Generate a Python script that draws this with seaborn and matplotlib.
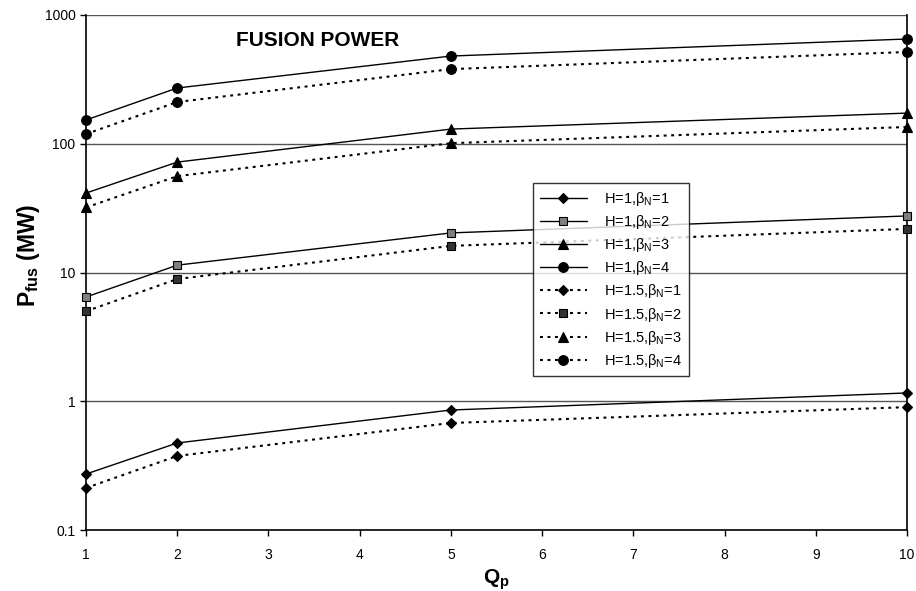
import numpy as np
import pandas as pd
import matplotlib
matplotlib.use('Agg')
import matplotlib.pyplot as plt
from matplotlib.ticker import FixedLocator, FixedFormatter, NullLocator
import seaborn as sns

# data
qp = [1, 2, 5, 10]
h1_b1 = [0.272, 0.474, 0.855, 1.16]
h1_b2 = [6.45, 11.4, 20.3, 27.5]
h1_b3 = [41.4, 72, 130, 173]
h1_b4 = [153, 271, 480, 651]
h15_b1 = [0.212, 0.376, 0.678, 0.90]
h15_b2 = [5.0, 8.9, 16.1, 21.8]
h15_b3 = [32, 56, 101, 135]
h15_b4 = [119, 211, 380, 516]

dotted = (0, (1.4, 2.2))
series = [
    ('H=1,$\\beta_N$=1', h1_b1, '-', 'D', 'black'),
    ('H=1,$\\beta_N$=2', h1_b2, '-', 's', '#808080'),
    ('H=1,$\\beta_N$=3', h1_b3, '-', '^', 'black'),
    ('H=1,$\\beta_N$=4', h1_b4, '-', 'o', 'black'),
    ('H=1.5,$\\beta_N$=1', h15_b1, dotted, 'D', 'black'),
    ('H=1.5,$\\beta_N$=2', h15_b2, dotted, 's', '#333333'),
    ('H=1.5,$\\beta_N$=3', h15_b3, dotted, '^', 'black'),
    ('H=1.5,$\\beta_N$=4', h15_b4, dotted, 'o', 'black'),
]
msize = {'D': 5.5, 's': 6.3, '^': 7, 'o': 7}

sns.set_style('white')
plt.rcParams['font.family'] = ['Liberation Sans', 'DejaVu Sans']
plt.rcParams['text.color'] = 'black'
plt.rcParams['axes.labelcolor'] = 'black'
plt.rcParams['xtick.color'] = 'black'
plt.rcParams['ytick.color'] = 'black'
plt.rcParams['mathtext.fontset'] = 'custom'
plt.rcParams['mathtext.rm'] = 'Liberation Sans'
plt.rcParams['mathtext.it'] = 'Liberation Sans'
plt.rcParams['mathtext.bf'] = 'Liberation Sans:bold'

fig = plt.figure(figsize=(9.16, 5.91), dpi=100)
ax = fig.add_axes([86/916, 61/591, 821/916, 515/591])

for name, vals, ls, mk, fc in series:
    df = pd.DataFrame({'Qp': qp, 'P': vals})
    sns.lineplot(data=df, x='Qp', y='P', ax=ax, color='black', linestyle=ls,
                 linewidth=1.0 if ls == '-' else 1.5, marker=mk, markersize=msize[mk],
                 markerfacecolor=fc, markeredgecolor='black', markeredgewidth=0.8,
                 label=name, clip_on=False, zorder=3)

ax.set_yscale('log')
ax.set_xlim(1, 10)
ax.set_ylim(0.1, 1000)

for v in [1, 10, 100, 1000]:
    ax.axhline(v, color='#555555', lw=1.0, zorder=1)

ax.xaxis.set_major_locator(FixedLocator(range(1, 11)))
ax.yaxis.set_major_locator(FixedLocator([0.1, 1, 10, 100, 1000]))
ax.yaxis.set_major_formatter(FixedFormatter(['0.1', '1', '10', '100', '1000']))
ax.yaxis.set_minor_locator(NullLocator())
ax.tick_params(axis='both', which='major', direction='out', length=4, width=1,
               labelsize=10, color='black', left=True, bottom=True)
ax.tick_params(axis='x', pad=9)

for s in ['left', 'bottom', 'right']:
    ax.spines[s].set_color('black')
    ax.spines[s].set_linewidth(1.2)
ax.spines['top'].set_visible(False)

ax.set_xlabel('Q$_\\mathbf{p}$', fontsize=15, fontweight='bold')
ax.xaxis.set_label_coords(0.5, -0.072)
ax.set_ylabel('P$_\\mathbf{fus}$ (MW)', fontsize=16.5, fontweight='bold')
ax.yaxis.set_label_coords(-0.054, 0.534)

ax.text(0.183, 0.950, 'FUSION POWER', transform=ax.transAxes, fontsize=15,
        fontweight='bold', ha='left', va='center')

leg = ax.legend(loc='upper left', bbox_to_anchor=(0.536, 0.687), frameon=True,
                fancybox=False, edgecolor='black', fontsize=10.5, handlelength=3.2,
                borderpad=0.45, labelspacing=0.35, handletextpad=1.2)
leg.get_frame().set_linewidth(1.0)
leg.set_zorder(5)

fig.savefig('out.png', dpi=100, facecolor='white')
